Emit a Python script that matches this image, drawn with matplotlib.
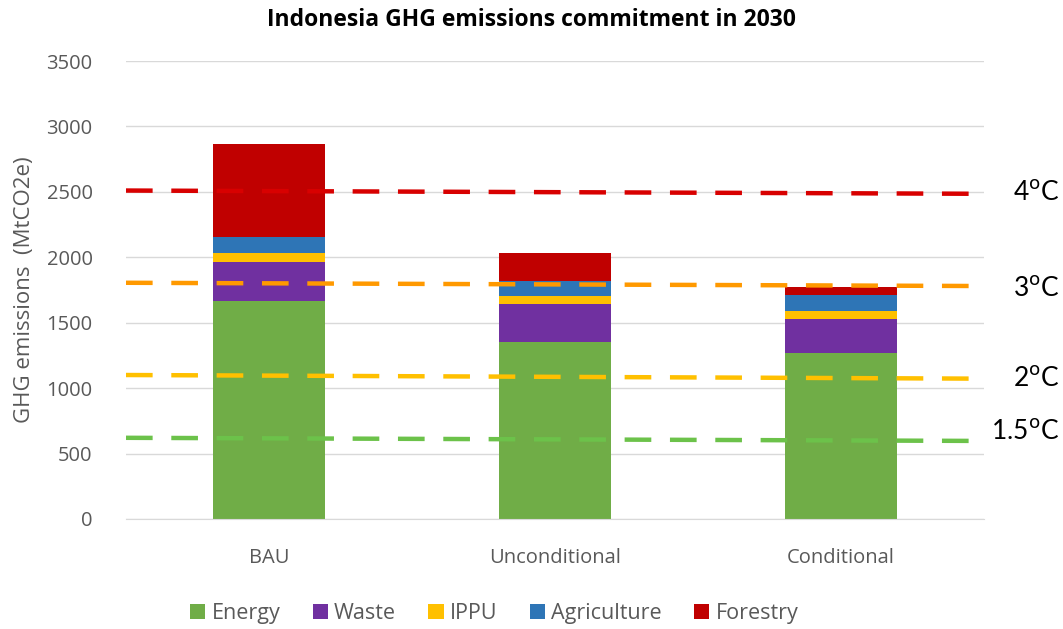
import numpy as np
import matplotlib.pyplot as plt

plt.rcParams['font.family'] = ['Open Sans', 'DejaVu Sans']

categories = ['BAU', 'Unconditional', 'Conditional']
sectors = ['Energy', 'Waste', 'IPPU', 'Agriculture', 'Forestry']
energy = [1669, 1355, 1271]
waste = [296, 285, 256]
ippu = [70, 67, 66]
agriculture = [120, 110, 116]
forestry = [714, 217, 64]
series = [energy, waste, ippu, agriculture, forestry]
colors = ['#70AD47', '#7030A0', '#FFC000', '#2E75B6', '#C00000']

# temperature pathway lines (value at left edge, value at right edge)
temp_labels = ['4$^\\mathrm{o}$C', '3$^\\mathrm{o}$C', '2$^\\mathrm{o}$C', '1.5$^\\mathrm{o}$C']
temp_left = [2510, 1805, 1100, 620]
temp_right = [2485, 1780, 1072, 596]
temp_colors = ['#D80000', '#FF9900', '#FFC000', '#6CC24A']
temp_text_y = [2495, 1765, 1075, 665]

fig = plt.figure(figsize=(10.63, 6.29), dpi=100)
ax = fig.add_axes([0.1185, 0.175, 0.807, 0.728])

x = np.arange(len(categories))
bottom = np.zeros(len(categories))
for name, vals, c in zip(sectors, series, colors):
    ax.bar(x, vals, 0.39, bottom=bottom, color=c, label=name, zorder=2)
    bottom += np.array(vals)

for lab, yl, yr, c, ty in zip(temp_labels, temp_left, temp_right, temp_colors, temp_text_y):
    ax.plot([-0.5, 2.5], [yl, yr], color=c, lw=3.2, dashes=(6, 4.2), zorder=3,
            solid_capstyle='butt', dash_capstyle='butt')
    ax.text(1.088, ty, lab, transform=ax.get_yaxis_transform(), fontsize=19,
            family=['Lato', 'DejaVu Sans'], va='center', ha='right',
            color='black', clip_on=False)

ax.set_xlim(-0.5, 2.5)
ax.set_ylim(0, 3500)
ax.set_yticks(np.arange(0, 3501, 500))
ax.set_xticks(x)
ax.set_xticklabels(categories)
ax.yaxis.grid(True, color='#D9D9D9', lw=1, zorder=0)
ax.set_axisbelow(True)
for s in ['top', 'right', 'left']:
    ax.spines[s].set_visible(False)
ax.spines['bottom'].set_color('#D9D9D9')
ax.tick_params(axis='both', length=0, colors='#595959', labelsize=14.5)
ax.tick_params(axis='x', pad=21)
ax.tick_params(axis='y', pad=24)
ax.set_ylabel('GHG emissions  (MtCO2e)', fontsize=16, color='#595959', labelpad=8)

fig.text(0.5, 0.968, 'Indonesia GHG emissions commitment in 2030', ha='center',
         va='center', fontsize=16.5, fontweight='bold')

fig.legend(loc='center', bbox_to_anchor=(0.465, 0.025), ncol=5, frameon=False,
           fontsize=15.5, labelcolor='#595959', handlelength=0.7, handleheight=0.7,
           handletextpad=0.3, columnspacing=1.5)

plt.savefig('out.png', dpi=100)
plt.close()
